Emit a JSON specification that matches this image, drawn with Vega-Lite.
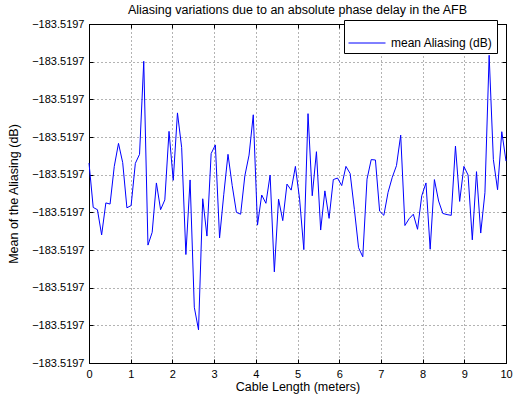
{
"$schema": "https://vega.github.io/schema/vega-lite/v6.json",
"width": 417, "height": 339,
"autosize": "none",
"padding": {"left": 89, "top": 24, "right": 7, "bottom": 36},
"background": "white",
"title": {"text": "Aliasing variations due to an absolute phase delay in the AFB", "fontSize": 12.5, "fontWeight": "normal", "font": "Liberation Sans", "offset": 2, "color": "black"},
"config": {"view": {"stroke": "black", "strokeWidth": 1}, "font": "Liberation Sans"},
"data": {"values": [
{"length":0,"aliasing":-183.51969969},
{"length":0.101,"aliasing":-183.51970087},
{"length":0.202,"aliasing":-183.51970093},
{"length":0.303,"aliasing":-183.5197016},
{"length":0.404,"aliasing":-183.51970075},
{"length":0.5051,"aliasing":-183.51970078},
{"length":0.6061,"aliasing":-183.51969978},
{"length":0.7071,"aliasing":-183.51969917},
{"length":0.8081,"aliasing":-183.51969968},
{"length":0.9091,"aliasing":-183.51970088},
{"length":1.0101,"aliasing":-183.51970082},
{"length":1.1111,"aliasing":-183.5196997},
{"length":1.2121,"aliasing":-183.51969946},
{"length":1.3131,"aliasing":-183.51969699},
{"length":1.4141,"aliasing":-183.51970187},
{"length":1.5152,"aliasing":-183.51970153},
{"length":1.6162,"aliasing":-183.51970022},
{"length":1.7172,"aliasing":-183.51970093},
{"length":1.8182,"aliasing":-183.51970067},
{"length":1.9192,"aliasing":-183.51969885},
{"length":2.0202,"aliasing":-183.51970015},
{"length":2.1212,"aliasing":-183.51969836},
{"length":2.2222,"aliasing":-183.51969928},
{"length":2.3232,"aliasing":-183.51970212},
{"length":2.4242,"aliasing":-183.51970014},
{"length":2.5253,"aliasing":-183.51970352},
{"length":2.6263,"aliasing":-183.51970412},
{"length":2.7273,"aliasing":-183.51970064},
{"length":2.8283,"aliasing":-183.51970163},
{"length":2.9293,"aliasing":-183.51969944},
{"length":3.0303,"aliasing":-183.51969921},
{"length":3.1313,"aliasing":-183.51970168},
{"length":3.2323,"aliasing":-183.51970052},
{"length":3.3333,"aliasing":-183.51969946},
{"length":3.4343,"aliasing":-183.51970029},
{"length":3.5354,"aliasing":-183.519701},
{"length":3.6364,"aliasing":-183.51970105},
{"length":3.7374,"aliasing":-183.51970003},
{"length":3.8384,"aliasing":-183.51969948},
{"length":3.9394,"aliasing":-183.51969841},
{"length":4.0404,"aliasing":-183.51970134},
{"length":4.1414,"aliasing":-183.51970054},
{"length":4.2424,"aliasing":-183.51970076},
{"length":4.3434,"aliasing":-183.51970001},
{"length":4.4444,"aliasing":-183.51970258},
{"length":4.5455,"aliasing":-183.51970065},
{"length":4.6465,"aliasing":-183.51970122},
{"length":4.7475,"aliasing":-183.51970025},
{"length":4.8485,"aliasing":-183.51970041},
{"length":4.9495,"aliasing":-183.51969978},
{"length":5.0505,"aliasing":-183.51970065},
{"length":5.1515,"aliasing":-183.51970199},
{"length":5.2525,"aliasing":-183.51969838},
{"length":5.3535,"aliasing":-183.51970056},
{"length":5.4545,"aliasing":-183.51969939},
{"length":5.5556,"aliasing":-183.51970147},
{"length":5.6566,"aliasing":-183.51970043},
{"length":5.7576,"aliasing":-183.51970116},
{"length":5.8586,"aliasing":-183.51970013},
{"length":5.9596,"aliasing":-183.51970009},
{"length":6.0606,"aliasing":-183.51970029},
{"length":6.1616,"aliasing":-183.51969978},
{"length":6.2626,"aliasing":-183.51969997},
{"length":6.3636,"aliasing":-183.51970092},
{"length":6.4646,"aliasing":-183.51970194},
{"length":6.5657,"aliasing":-183.51970218},
{"length":6.6667,"aliasing":-183.51970012},
{"length":6.7677,"aliasing":-183.5196996},
{"length":6.8687,"aliasing":-183.51969961},
{"length":6.9697,"aliasing":-183.51970097},
{"length":7.0707,"aliasing":-183.51970108},
{"length":7.1717,"aliasing":-183.51970047},
{"length":7.2727,"aliasing":-183.51970007},
{"length":7.3737,"aliasing":-183.51969976},
{"length":7.4747,"aliasing":-183.51969895},
{"length":7.5758,"aliasing":-183.51970135},
{"length":7.6768,"aliasing":-183.51970117},
{"length":7.7778,"aliasing":-183.51970105},
{"length":7.8788,"aliasing":-183.51970145},
{"length":7.9798,"aliasing":-183.51970056},
{"length":8.0808,"aliasing":-183.51970022},
{"length":8.1818,"aliasing":-183.51970198},
{"length":8.2828,"aliasing":-183.51970013},
{"length":8.3838,"aliasing":-183.5197007},
{"length":8.4848,"aliasing":-183.51970103},
{"length":8.5859,"aliasing":-183.51970106},
{"length":8.6869,"aliasing":-183.51970108},
{"length":8.7879,"aliasing":-183.51969924},
{"length":8.8889,"aliasing":-183.51970071},
{"length":8.9899,"aliasing":-183.51969978},
{"length":9.0909,"aliasing":-183.51970001},
{"length":9.1919,"aliasing":-183.51970173},
{"length":9.2929,"aliasing":-183.51969992},
{"length":9.3939,"aliasing":-183.51970155},
{"length":9.4949,"aliasing":-183.51970048},
{"length":9.596,"aliasing":-183.51969683},
{"length":9.697,"aliasing":-183.5196996},
{"length":9.798,"aliasing":-183.5197004},
{"length":9.899,"aliasing":-183.51969886},
{"length":10,"aliasing":-183.51969964}
]},
"layer": [
{
"mark": {"type": "line", "strokeWidth": 1},
"encoding": {
"x": {"field": "length", "type": "quantitative", "scale": {"domain": [0, 10], "nice": false, "zero": false},
  "axis": {"values": [0,1,2,3,4,5,6,7,8,9,10], "format": "d", "title": "Cable Length (meters)", "grid": true, "gridColor": "black", "gridDash": [1, 3], "gridOpacity": 0.6, "domainColor": "black", "tickColor": "black", "tickSize": -4, "labelPadding": 9, "labelFontSize": 11, "labelColor": "black", "labelFont": "Liberation Sans", "titleFont": "Liberation Sans", "titleFontSize": 12.5, "titleFontWeight": "normal", "titleColor": "black", "titlePadding": 1, "labelFlush": false}},
"y": {"field": "aliasing", "type": "quantitative", "scale": {"domain": [-183.519705, -183.519696], "nice": false, "zero": false},
  "axis": {"values": [-183.519696,-183.519697,-183.519698,-183.519699,-183.5197,-183.519701,-183.519702,-183.519703,-183.519704,-183.519705], "format": ".4f", "title": "Mean of the Aliasing (dB)", "grid": true, "gridColor": "black", "gridDash": [1, 3], "gridOpacity": 0.6, "domainColor": "black", "tickColor": "black", "tickSize": -4, "labelPadding": 9, "labelFontSize": 11, "labelColor": "black", "labelFont": "Liberation Sans", "titleFont": "Liberation Sans", "titleFontSize": 12.5, "titleFontWeight": "normal", "titleColor": "black", "titlePadding": 11, "labelFlush": false}},
"color": {"datum": "mean Aliasing (dB)", "type": "nominal", "scale": {"range": ["#0000ff"]},
  "legend": {"title": null, "orient": "none", "legendX": 255, "legendY": -4, "symbolType": "stroke", "symbolSize": 1369, "symbolStrokeWidth": 1, "labelFontSize": 12, "labelFont": "Liberation Sans", "labelColor": "black", "strokeColor": "black", "fillColor": "white", "padding": 4, "labelOffset": 5}}
}
},
{
"mark": {"type": "line", "opacity": 0},
"encoding": {
"x": {"field": "length", "type": "quantitative", "axis": {"orient": "top", "values": [0,1,2,3,4,5,6,7,8,9,10], "labels": false, "grid": false, "title": null, "tickSize": -4, "tickColor": "black", "domainColor": "black"}},
"y": {"field": "aliasing", "type": "quantitative", "axis": {"orient": "right", "values": [-183.519696,-183.519697,-183.519698,-183.519699,-183.5197,-183.519701,-183.519702,-183.519703,-183.519704,-183.519705], "labels": false, "grid": false, "title": null, "tickSize": -4, "tickColor": "black", "domainColor": "black"}}
}
}
],
"resolve": {"axis": {"x": "independent", "y": "independent"}}
}
